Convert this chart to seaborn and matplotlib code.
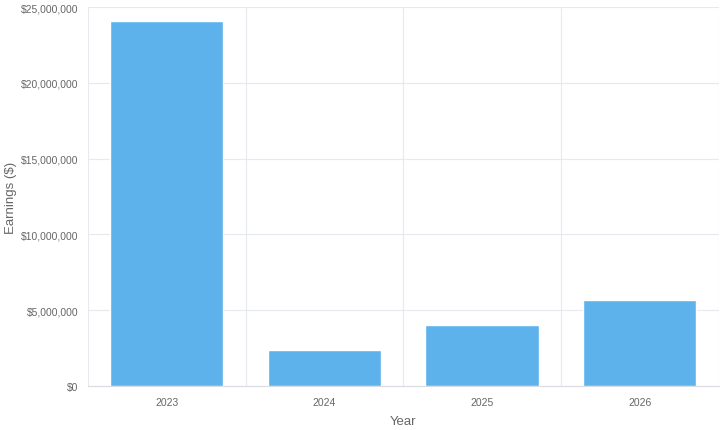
import pandas as pd
import matplotlib.pyplot as plt
import seaborn as sns
from matplotlib.ticker import FuncFormatter, FixedLocator

# data
years = ["2023", "2024", "2025", "2026"]
earnings = [24100000, 2350000, 4000000, 5650000]

df = pd.DataFrame({"Year": years, "Earnings": earnings})

sns.set_style("white")
plt.rcParams["font.family"] = ["Liberation Sans", "DejaVu Sans"]

grid_col = "#e6e9ee"
text_col = "#666666"

fig = plt.figure(figsize=(7.2, 4.31), dpi=100)
ax = fig.add_axes([0.122, 0.102, 0.876, 0.879])

sns.barplot(data=df, x="Year", y="Earnings", color="#5db2ec", width=0.72,
            saturation=1, ax=ax, zorder=3)

ax.set_ylim(0, 25000000)
ax.set_xlim(-0.5, len(years) - 0.5)
ax.yaxis.set_major_locator(FixedLocator([0, 5e6, 10e6, 15e6, 20e6, 25e6]))
ax.yaxis.set_major_formatter(FuncFormatter(lambda v, p: f"${v:,.0f}"))

# vertical lines between categories
ax.xaxis.set_minor_locator(FixedLocator([i - 0.5 for i in range(len(years) + 1)]))
ax.grid(axis="y", which="major", color=grid_col, linewidth=0.8, zorder=0)
ax.grid(axis="x", which="minor", color=grid_col, linewidth=0.8, zorder=0)

ax.tick_params(axis="x", which="major", length=0, labelsize=7.5, labelcolor=text_col, pad=8)
ax.tick_params(axis="x", which="minor", length=8, color=grid_col, width=0.8)
ax.tick_params(axis="y", which="major", length=4, color=grid_col, labelsize=7.5,
               labelcolor=text_col, pad=3)

for s in ["top", "right", "left"]:
    ax.spines[s].set_visible(False)
ax.spines["bottom"].set_color("#d8dce0")
ax.spines["bottom"].set_linewidth(0.8)

ax.set_xlabel("Year", fontsize=9.5, color=text_col, labelpad=6)
ax.set_ylabel("Earnings ($)", fontsize=9.5, color=text_col)
ax.yaxis.set_label_coords(-0.113, 0.5)

fig.savefig("out.png", dpi=100)
